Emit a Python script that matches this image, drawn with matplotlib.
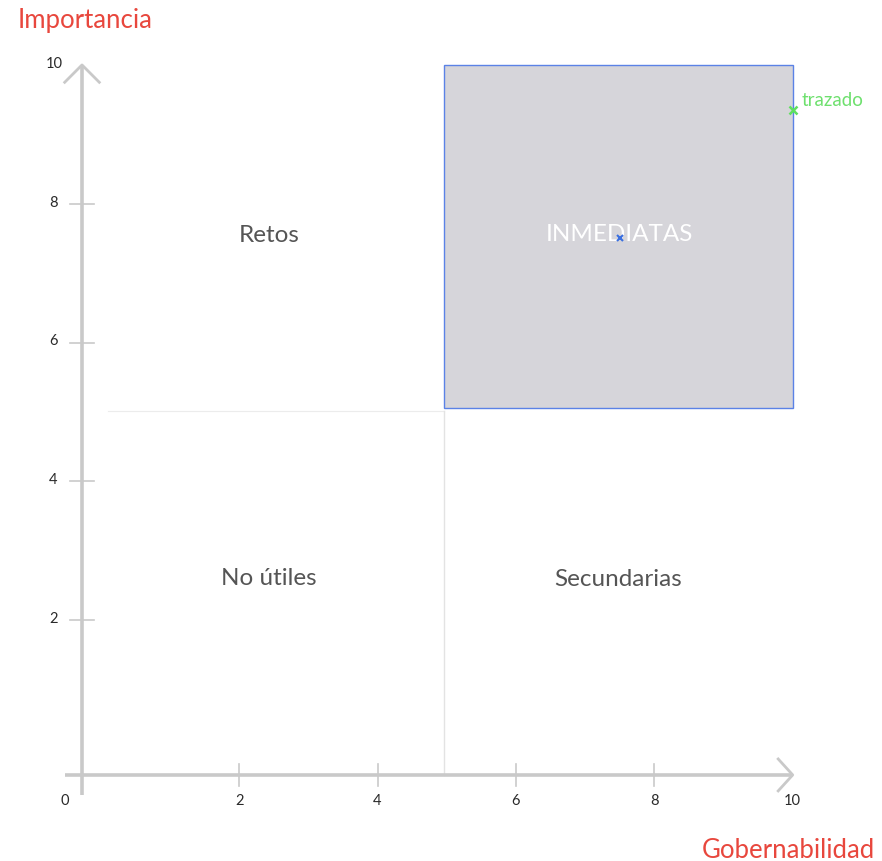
import matplotlib
matplotlib.use("Agg")
import matplotlib.pyplot as plt
from matplotlib.patches import Rectangle

# Data
ticks_x = [0, 2, 4, 6, 8, 10]
ticks_y = [2, 4, 6, 8, 10]
quadrant_names = ["Retos", "No útiles", "Secundarias"]
quadrant_x = [2.43, 2.43, 7.47]
quadrant_y = [7.55, 2.62, 2.6]
highlight_name = "INMEDIATAS"
highlight_box = [4.96, 5.05, 10, 10]  # x0, y0, x1, y1
point_center = [7.5, 7.5]
trace_name = "trazado"
trace_point = [10, 9.35]
x_title = "Gobernabilidad"
y_title = "Importancia"

plt.rcParams['font.family'] = ['Lato', 'DejaVu Sans']
W = 'normal'

fig = plt.figure(figsize=(8.82, 8.62), dpi=100)
ax = fig.add_axes([0, 0, 1, 1])
ax.set_xlim(-1.455, 11.29)
ax.set_ylim(-1.47, 10.95)
ax.axis('off')

axis_color = '#c9c9c9'
red = '#e8473d'
ax0x, ax0y = -0.27, -0.23

# quadrant dividers
ax.plot([0.1, 4.96], [5.02, 5.02], color='#ececec', lw=0.8, zorder=1)
ax.plot([4.96, 4.96], [ax0y, 5.02], color='#e3e3e3', lw=1.0, zorder=1)

# highlight box
x0, y0, x1, y1 = highlight_box
ax.add_patch(Rectangle((x0, y0), x1 - x0, y1 - y0, facecolor='#d6d5da',
                       edgecolor='#5b82e6', lw=1.0, zorder=2))

# axes lines
ax.plot([ax0x, ax0x], [-0.52, 10], color=axis_color, lw=2.6, zorder=3, solid_capstyle='butt')
ax.plot([-0.52, 10], [ax0y, ax0y], color=axis_color, lw=2.6, zorder=3, solid_capstyle='butt')
# arrowheads
ax.plot([ax0x - 0.25, ax0x, ax0x + 0.25], [10 - 0.25, 10, 10 - 0.25], color=axis_color, lw=2.0, zorder=3)
ax.plot([10 - 0.21, 10, 10 - 0.21], [ax0y + 0.23, ax0y, ax0y - 0.23], color=axis_color, lw=2.0, zorder=3)

# ticks
for t in ticks_x:
    if t in (0, 10):
        continue
    ax.plot([t, t], [ax0y - 0.16, ax0y + 0.16], color=axis_color, lw=1.2, zorder=3)
for t in ticks_y:
    if t == 10:
        continue
    ax.plot([ax0x - 0.18, ax0x + 0.18], [t, t], color=axis_color, lw=1.2, zorder=3)

# tick labels
for t in ticks_x:
    xx = t if t != 0 else -0.52
    ax.text(xx, ax0y - 0.36, str(t), ha='center', va='center', fontsize=10.5,
            color='#2a2a2a', fontweight=W)
for t in ticks_y:
    xx = -0.62 if t != 10 else -0.55
    ax.text(xx, t + 0.03, str(t), ha='right', va='center', fontsize=10.5,
            color='#2a2a2a', fontweight=W)

# titles
ax.text(-1.2, 10.66, y_title, ha='left', va='center', fontsize=18.5, color=red, fontweight=W)
ax.text(11.19, -1.3, x_title, ha='right', va='center', fontsize=18.5, color=red, fontweight=W)

# quadrant labels
for name, qx, qy in zip(quadrant_names, quadrant_x, quadrant_y):
    ax.text(qx, qy, name, ha='center', va='center', fontsize=17.5, color='#555555',
            zorder=4, fontweight=W)
ax.text(point_center[0], 7.57, highlight_name, ha='center', va='center', fontsize=17.5,
        color='white', zorder=4, fontweight=W)

# points
ax.plot([point_center[0]], [point_center[1]], marker='x', color='#3a6fe0', ms=5, mew=1.5, zorder=5)
ax.plot([trace_point[0]], [trace_point[1]], marker='x', color='#5fe05f', ms=6, mew=1.8, zorder=5)
ax.text(trace_point[0] + 0.13, trace_point[1] + 0.15, trace_name, ha='left', va='center',
        fontsize=13.5, color='#6ee06e', zorder=5, fontweight=W)

fig.savefig('out.png', dpi=100, facecolor='white')
